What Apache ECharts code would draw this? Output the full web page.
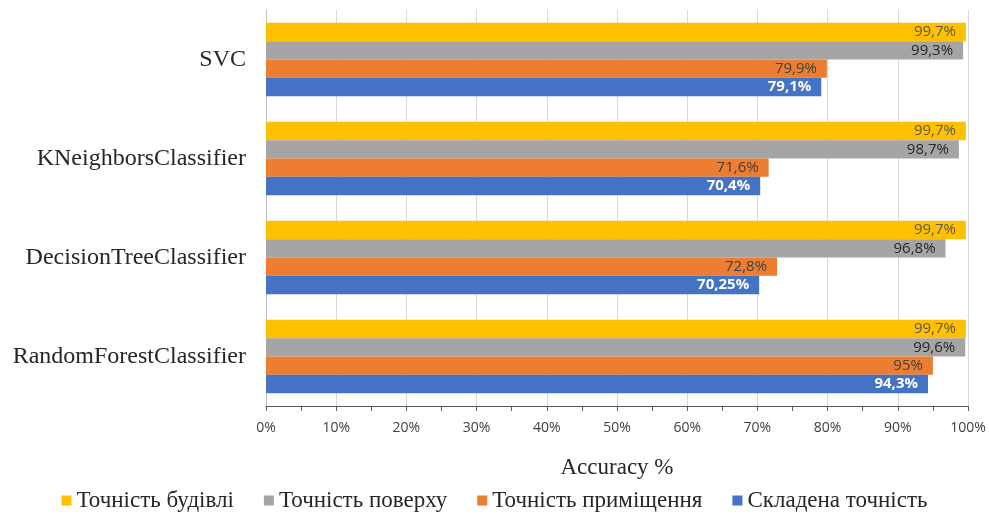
<!DOCTYPE html>
<html>
<head>
<meta charset="utf-8">
<script src="https://cdn.jsdelivr.net/npm/echarts@6/dist/echarts.min.js"></script>
<style>
  html, body { margin: 0; padding: 0; background: #fff; }
  #chart { width: 989px; height: 515px; }
</style>
</head>
<body>
<div id="chart"></div>
<script>
"use strict";

// categories bottom -> top (echarts puts first category at the bottom)
var models = ['RandomForestClassifier', 'DecisionTreeClassifier', 'KNeighborsClassifier', 'SVC'];

var buildingAcc = [99.7, 99.7, 99.7, 99.7];
var floorAcc    = [99.6, 96.8, 98.7, 99.3];
var roomAcc     = [95, 72.8, 71.6, 79.9];
var combinedAcc = [94.3, 70.25, 70.4, 79.1];

var seriesNames = ['Точність будівлі', 'Точність поверху', 'Точність приміщення', 'Складена точність'];
var xTicks = [0, 10, 20, 30, 40, 50, 60, 70, 80, 90, 100];

var chart = echarts.init(document.getElementById('chart'));

function pct(p) {
    return String(p.value).replace('.', ',') + '%';
}

function barSeries(name, data, color, labelColor, bold) {
    return {
        name: name,
        type: 'bar',
        data: data,
        barGap: '0%',
        barCategoryGap: '26%',
        itemStyle: { color: color },
        label: {
            show: true,
            position: 'insideRight',
            distance: 10,
            formatter: pct,
            color: labelColor,
            fontFamily: 'Open Sans',
            fontSize: 15,
            fontWeight: bold ? 'bold' : 'normal'
        }
    };
}

var option = {
    animation: false,
    backgroundColor: '#fff',
    grid: { left: 266, right: 21, top: 10, bottom: 109 },
    legend: {
        bottom: -2,
        left: 'center',
        itemWidth: 10,
        itemHeight: 10,
        itemGap: 30,
        icon: 'rect',
        textStyle: { fontFamily: 'Liberation Serif', fontSize: 23, color: '#262626' },
        data: seriesNames
    },
    xAxis: {
        type: 'value',
        min: 0,
        max: 100,
        interval: 10,
        name: 'Accuracy %',
        nameLocation: 'middle',
        nameGap: 50,
        nameTextStyle: { fontFamily: 'Liberation Serif', fontSize: 23, color: '#262626' },
        axisLine: { show: true, lineStyle: { color: '#595959', width: 1 } },
        axisTick: { show: true, length: 5, lineStyle: { color: '#595959' } },
        minorTick: { show: true, splitNumber: 2, length: 5, lineStyle: { color: '#595959' } },
        splitLine: { show: true, lineStyle: { color: '#D9D9D9' } },
        axisLabel: {
            margin: 15,
            fontFamily: 'Open Sans',
            fontSize: 14,
            color: '#404040',
            formatter: function (v) { return xTicks.indexOf(v) >= 0 ? v + '%' : ''; }
        }
    },
    yAxis: {
        type: 'category',
        data: models,
        axisLine: { show: true, lineStyle: { color: '#BFBFBF' } },
        axisTick: { show: false },
        axisLabel: {
            margin: 20,
            fontFamily: 'Liberation Serif',
            fontSize: 24,
            color: '#262626'
        }
    },
    series: [
        barSeries(seriesNames[0], buildingAcc, '#FFC000', '#595959', false),
        barSeries(seriesNames[1], floorAcc, '#A5A5A5', '#262626', false),
        barSeries(seriesNames[2], roomAcc, '#ED7D31', '#404040', false),
        barSeries(seriesNames[3], combinedAcc, '#4472C4', '#ffffff', true)
    ]
};

chart.setOption(option);
</script>
</body>
</html>
